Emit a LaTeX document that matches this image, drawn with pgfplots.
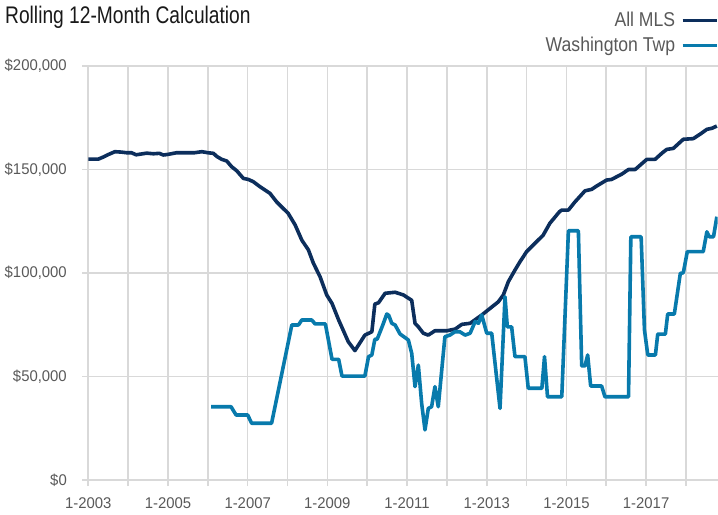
\documentclass[border=0pt]{standalone}
\usepackage{pgfplots}
\pgfplotsset{compat=1.18}
\usepackage{fontspec}
\setmainfont{Liberation Sans}
\newfontfamily\titlefont{Liberation Sans}[FakeStretch=0.80]
\newfontfamily\legfont{Liberation Sans}[FakeStretch=0.88]
\newfontfamily\tickfont{Liberation Sans}[FakeStretch=0.96]
\definecolor{navy}{RGB}{12,46,92}
\definecolor{twp}{RGB}{8,122,172}
\definecolor{gridgray}{RGB}{217,217,217}
\definecolor{labgray}{RGB}{89,89,89}
\definecolor{titleblack}{RGB}{25,25,25}
\begin{document}
\begin{tikzpicture}
\useasboundingbox (0,0) rectangle (718bp,515bp);
\node[anchor=base west, inner sep=0pt, font=\titlefont\fontsize{24bp}{28bp}\selectfont, text=titleblack] at (5bp,491bp) {Rolling 12-Month Calculation};
\begin{axis}[
  at={(88.3bp,35bp)}, anchor=south west,
  scale only axis, width=629.2bp, height=414bp,
  xmin=0, xmax=189.5, ymin=0, ymax=200000,
  xtick={0,12,...,180},
  xticklabels={1-2003,,1-2005,,1-2007,,1-2009,,1-2011,,1-2013,,1-2015,,1-2017,},
  ytick={0,50000,100000,150000,200000},
  yticklabels={{\$0},{\$50,000},{\$100,000},{\$150,000},{\$200,000}},
  scaled y ticks=false,
  grid=major,
  grid style={color=gridgray, line width=1.6bp},
  major tick length=6bp, tick align=outside,
  tick style={color=gridgray, line width=1.6bp},
  tick pos=left,
  axis line style={draw=none},
  tick label style={font=\tickfont\fontsize{15.5bp}{18bp}\selectfont, text=labgray},
  xticklabel style={yshift=-8bp},
  yticklabel style={xshift=-12bp},
  legend plot pos=right,
  legend cell align=right,
  legend style={draw=none, fill=none, at={(1.0,1.0)}, anchor=south east, xshift=1bp, yshift=11bp,
    font=\legfont\fontsize{20bp}{23bp}\selectfont, text=labgray, row sep=6bp, column sep=4bp, inner sep=0pt,
    nodes={inner sep=1.5bp}},
  legend image code/.code={\draw[#1] (0bp,0bp) -- (34bp,0bp);},
]
\addplot[navy, line width=3.6bp, line join=round] coordinates {
(0,155000)(3,155000)(4.5,156000)(6,157200)(8,158600)(10,158400)(11.5,158100)(13,158100)(14.4,157100)(16,157500)(17.6,157900)(19.6,157600)(21.4,157800)(22.6,157000)(24,157300)(26.6,158100)(29.6,158100)(32,158100)(34.2,158600)(36,158100)(37.7,157800)(38.7,156300)(40.2,154900)(41.7,154100)(43.2,151300)(44.7,149400)(46.7,145700)(48.2,145200)(49.7,144100)(51.7,141700)(54.7,138500)(56.7,134400)(60.2,128800)(62.3,123200)(64.3,115900)(66.3,111100)(67.8,104700)(69.8,98200)(71.8,89400)(73.4,85300)(75.4,77300)(78.3,66800)(80.3,62500)(83.3,70000)(85.4,71600)(86.3,85000)(87.4,85600)(89.4,90200)(92.4,90700)(94.9,89400)(97.4,86800)(98.4,75700)(99.4,74000)(100.9,70900)(102.4,70000)(104.4,72100)(108,72100)(110.5,72900)(112.5,75200)(115,75700)(118.5,79700)(121,82900)(123.5,86100)(125,89400)(126.5,95800)(128.5,101400)(130,105400)(132,110300)(134,113500)(137,118300)(139,124000)(141.9,129600)(142.6,130400)(144.6,130400)(146.6,134400)(149.6,139700)(151.6,140400)(153.1,142000)(156.1,144900)(157.6,145200)(160.7,147800)(162.7,150000)(164.7,150000)(168.2,154900)(170.7,154900)(172.7,157800)(174.2,159700)(176.2,160200)(179.2,164600)(182.2,164900)(184.3,167100)(186.3,169400)(187.8,169900)(189.3,171000)
};
\addlegendentry{All MLS}
\addplot[twp, line width=3.6bp, line join=round] coordinates {
(37,35400)(43,35400)(44.5,31400)(48,31400)(49.2,27400)(55.2,27400)(61.3,74900)(63.3,74900)(64.3,77300)(67.3,77300)(68.3,75400)(71.4,75400)(73.4,58300)(75.4,58300)(76.4,50200)(83.3,50200)(84.4,59600)(85.4,60400)(86.3,68000)(87,68000)(88.7,74900)(89.9,80200)(90.5,79500)(91.4,75700)(92.4,74900)(93.9,70500)(95.4,68800)(96.4,67600)(97.4,61200)(98.4,45100)(99.4,55500)(100.4,37000)(101.4,24200)(102.4,34600)(103.4,35400)(104.4,45100)(105.4,35400)(107.4,69200)(108.9,70000)(110.4,71600)(111.9,71600)(113.5,70000)(115,70900)(116.5,76500)(117.5,75700)(118.5,79700)(120,70900)(121.5,70900)(124,34600)(125.5,88500)(126.2,74000)(127.5,74000)(128.5,59600)(131.5,59600)(132.5,44300)(136.6,44300)(137.4,59600)(138.3,40200)(142.6,40200)(144.6,120400)(147.6,120400)(148.6,55100)(149.6,55100)(150.4,60400)(151.3,45400)(154.6,45400)(155.6,40200)(162.7,40200)(163.4,117500)(166.5,117500)(167.5,72500)(168.5,60400)(170.8,60400)(171.5,70500)(173.8,70500)(174.5,80200)(176.5,80200)(178.3,99800)(179.2,100100)(180.4,110300)(185.2,110300)(186.3,119900)(187,117500)(188.3,117500)(189.3,127200)
};
\addlegendentry{Washington Twp}
\end{axis}
\end{tikzpicture}
\end{document}
